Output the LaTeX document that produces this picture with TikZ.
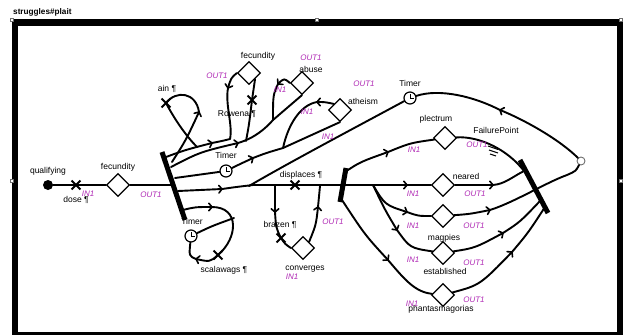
\documentclass[tikz,border=0pt]{standalone}
\usepackage{fontspec}
\setmainfont{Liberation Sans}
\usetikzlibrary{shapes.geometric,shapes.misc,arrows.meta}
\definecolor{portlbl}{RGB}{175,40,180}
\definecolor{handlegray}{RGB}{110,110,110}
\tikzset{
  flow/.style={line width=1.9pt, line cap=round, line join=round},
  chev/.pic={\draw[line width=1.6pt, line cap=round, line join=round] (-3.2pt,3.8pt) -- (0pt,0pt) -- (-3.2pt,-3.8pt);},
  ar/.style={pos=1, sloped, allow upside down},
  act/.style={diamond, draw, fill=white, line width=1.2pt, minimum size=23pt, inner sep=0pt},
  xmark/.style={cross out, draw, line width=1.8pt, minimum size=7pt, inner sep=0pt},
  syncbar/.style={line width=5pt},
  clock/.style={circle, draw, fill=white, line width=1.2pt, minimum size=12pt, inner sep=0pt},
  lbl/.style={font=\fontsize{8.5}{10}\selectfont, inner sep=0pt},
  port/.style={font=\fontsize{8}{10}\selectfont\itshape, text=portlbl, inner sep=0pt},
  handle/.style={rectangle, draw=handlegray, fill=white, line width=0.5pt, minimum size=3pt, inner sep=0pt},
}
\newcommand{\clockhands}[1]{\draw[line width=0.9pt] ([yshift=4pt]#1.center) -- (#1.center) -- ([xshift=4pt]#1.center);}
\begin{document}
\begin{tikzpicture}[x=1pt,y=-1pt]
\useasboundingbox (0,0) rectangle (623,335);

% window frame and title
\fill (12,19) rectangle (623,26);
\fill (12,19) rectangle (18,335);
\fill (617,19) rectangle (623,335);
\fill (12,332) rectangle (623,334.5);
\node[lbl, font=\fontsize{8.2}{10}\selectfont\bfseries, anchor=west] (title) at (13,12) {struggles\#plait};
\node[handle] (h1) at (12,20) {};
\node[handle] (h2) at (317,20) {};
\node[handle] (h3) at (621,20) {};
\node[handle] (h4) at (12,181) {};
\node[handle] (h5) at (621,181) {};

% places, transitions, timers
\node[circle, fill=black, minimum size=10pt, inner sep=0pt] (qual) at (48,185) {};
\node[xmark] (dose) at (76,185) {};
\node[act] (fecA) at (118,185) {};
\node[act] (fecB) at (249,73) {};
\node[act] (abuse) at (302,83) {};
\node[act] (athe) at (340,110) {};
\node[act] (conv) at (303,248) {};
\node[act] (plect) at (445,138) {};
\node[act] (neared) at (443,185) {};
\node[act] (magp) at (443,216) {};
\node[act] (estab) at (443,253) {};
\node[act] (phant) at (443,295) {};
\node[xmark] (ainx) at (166,103) {};
\node[xmark] (rowena) at (252,100) {};
\node[xmark] (displ) at (295,185) {};
\node[xmark] (brazen) at (281,238) {};
\node[xmark] (scal) at (218,255) {};
\node[clock] (timerA) at (226,171) {};
\node[clock] (timerB) at (410,98) {};
\node[clock] (timerC) at (191,236) {};
\node[circle, draw=handlegray, fill=white, line width=0.9pt, minimum size=8pt, inner sep=0pt] (circ) at (581,161) {};

% synchronisation bars
\coordinate (b1top) at (162,152);
\coordinate (b1bot) at (185,220);
\coordinate (b2top) at (346,168);
\coordinate (b2bot) at (340,202);
\coordinate (b3top) at (520,160);
\coordinate (b3bot) at (548,213);

% attachment and junction points
\coordinate (b1in) at (173,185);
\coordinate (b1a) at (166,157);
\coordinate (b1b) at (171,167);
\coordinate (b1c) at (175,178);
\coordinate (b1d) at (178,191);
\coordinate (b1e) at (183,210);
\coordinate (b1f) at (172,162);
\coordinate (j1) at (230,139);
\coordinate (j2) at (246,141);
\coordinate (j3) at (273,120);
\coordinate (j4) at (283,148);
\coordinate (j5) at (253,185);
\coordinate (j6) at (249,186);
\coordinate (j7) at (373,185);
\coordinate (j8) at (275,185);
\coordinate (j9) at (320,186);
\coordinate (j10) at (234,218);
\coordinate (j11) at (197,147);
\coordinate (b2a) at (345,172);
\coordinate (b2b) at (342,200);
\coordinate (b3a) at (524,171);
\coordinate (b3c) at (540,201);
\coordinate (b3d) at (545,207);

% left input
\draw[flow] (qual) -- (fecA);
\draw[flow] (fecA) -- (b1in);

% loops above the first bar
\draw[flow] (b1f) .. controls (186,140) .. (199,112) pic[ar]{chev}
  .. controls (196,92) and (176,90) .. (ainx.center) .. controls (176,122) and (188,138) .. (j11);
\draw[flow] (b1a) .. controls (185,150) .. (212,143) pic[ar]{chev} .. controls (222,141) .. (j1);
\draw[flow] (fecB.west) .. controls (231,78) .. (228,88) pic[ar]{chev}
  .. controls (225,105) and (233,125) .. (j1);
\draw[flow] (j2) .. controls (249,125) .. (rowena.center) .. controls (254,90) .. (fecB.south east);
\draw[flow] (b1b) .. controls (200,152) .. (238,143) pic[ar]{chev}
  .. controls (255,138) and (266,128) .. (j3) -- (abuse.south);
\draw[flow] (abuse.west) .. controls (284,78) .. (278,84) pic[ar]{chev} .. controls (273,95) .. (j3);
\draw[flow] (b1c) -- (timerA);
\draw[flow] (timerA) .. controls (238,165) .. (253,158) pic[ar]{chev}
  .. controls (266,153) .. (j4) -- (athe.south);
\draw[flow] (athe.north west) .. controls (325,102) .. (317,102) pic[ar]{chev}
  .. controls (300,105) and (288,125) .. (j4);

% main line through the middle
\draw[flow] (b1d) .. controls (200,190) .. (222,189) pic[ar]{chev} .. controls (236,187) .. (j5);
\draw[flow] (j5) -- (displ.center) -- (407,185) pic[ar]{chev} -- (neared);
\draw[flow] (timerB) .. controls (360,125) and (290,162) .. (j6);

% brazen / converges loop
\draw[flow] (j8) -- (275,212) pic[ar]{chev} .. controls (276,228) .. (brazen.center)
  .. controls (285,244) .. (conv.west);
\draw[flow] (conv.north east) .. controls (316,225) .. (318,207) pic[ar]{chev} -- (j9);

% scalawags loop with its timer
\draw[flow] (b1e) .. controls (195,207) .. (212,207) pic[ar]{chev}
  .. controls (240,207) and (238,238) .. (scal.center) .. controls (210,262) .. (196,259) pic[ar]{chev}
  .. controls (189,256) .. (timerC);
\draw[flow] (timerC) .. controls (212,226) .. (j10);

% fan out after the second bar
\draw[flow] (b2a) .. controls (360,162) .. (388,152) pic[ar]{chev} .. controls (410,143) .. (plect);
\draw[flow] (j7) .. controls (385,205) .. (407,212) pic[ar]{chev} .. controls (418,216) .. (magp);
\draw[flow] (j7) .. controls (385,210) .. (397,230) pic[ar]{chev} .. controls (410,248) .. (estab);
\draw[flow] (b2b) .. controls (365,235) .. (388,260) pic[ar]{chev}
  .. controls (405,280) and (415,292) .. (phant);

% merge into the third bar
\draw[flow] (plect) .. controls (480,136) and (508,150) .. (b3a);
\draw[flow] (neared) -- (493,185) pic[ar]{chev} .. controls (505,184) and (512,177) .. (b3a);
\draw[flow] (magp) .. controls (470,214) .. (490,210) pic[ar]{chev}
  .. controls (515,202) and (545,183) .. (567,175) .. controls (576,171) .. (circ);
\draw[flow] (estab) .. controls (475,248) .. (503,233) pic[ar]{chev} .. controls (520,222) .. (b3c);
\draw[flow] (phant) .. controls (480,285) .. (512,252) pic[ar]{chev} .. controls (528,233) .. (b3d);

% return arc through the upper timer
\draw[flow] (circ) .. controls (560,140) and (525,120) .. (500,110) pic[ar]{chev}
  .. controls (475,97) and (440,88) .. (timerB);

% failure marker
\draw[line width=1pt] (488,146) -- (498,149.5) (489,150) -- (498,153) (490,154) -- (496,156);

% bars on top
\draw[syncbar] (b1top) -- (b1bot);
\draw[syncbar] (b2top) -- (b2bot);
\draw[syncbar] (b3top) -- (b3bot);

\clockhands{timerA}
\clockhands{timerB}
\clockhands{timerC}

% labels
\node[lbl] (tq) at (48,171) {qualifying};
\node[lbl] (tdose) at (76,200) {dose ¶};
\node[port] (pdose) at (88,194) {IN1};
\node[lbl] (tfecA) at (118,167) {fecundity};
\node[port] (pfecA) at (151,195) {OUT1};
\node[lbl] (tain) at (167,89) {ain ¶};
\node[lbl] (tfecB) at (258,56) {fecundity};
\node[port] (pfecB) at (217,76) {OUT1};
\node[lbl] (trow) at (237,114) {Rowena ¶};
\node[port] (pab1) at (311,58) {OUT1};
\node[lbl] (tab) at (311,69) {abuse};
\node[port] (pab2) at (280,90) {IN1};
\node[port] (pab3) at (307,112) {IN1};
\node[port] (pat1) at (364,84) {OUT1};
\node[lbl] (tat) at (363,101) {atheism};
\node[port] (pat2) at (328,137) {IN1};
\node[lbl] (ttA) at (226,155) {Timer};
\node[lbl] (tdis) at (301,175) {displaces ¶};
\node[lbl] (ttC) at (192,221) {Timer};
\node[lbl] (tscal) at (224,270) {scalawags ¶};
\node[lbl] (tbraz) at (280,225) {brazen ¶};
\node[port] (pconv1) at (333,222) {OUT1};
\node[lbl] (tconv) at (305,269) {converges};
\node[port] (pconv2) at (292,277) {IN1};
\node[lbl] (ttB) at (410,83) {Timer};
\node[lbl] (tplec) at (436,119) {plectrum};
\node[lbl] (tfail) at (496,130) {FailurePoint};
\node[port] (pplec1) at (414,150) {IN1};
\node[port] (pplec2) at (477,145) {OUT1};
\node[lbl] (tnear) at (466,176) {neared};
\node[port] (pnear1) at (413,194) {IN1};
\node[port] (pnear2) at (475,194) {OUT1};
\node[port] (pmag1) at (413,226) {IN1};
\node[port] (pmag2) at (474,226) {OUT1};
\node[lbl] (tmag) at (444,238) {magpies};
\node[port] (pest1) at (413,260) {IN1};
\node[port] (pest2) at (474,263) {OUT1};
\node[lbl] (test) at (445,271) {established};
\node[port] (pph1) at (412,304) {IN1};
\node[port] (pph2) at (474,300) {OUT1};
\node[lbl] (tph) at (441,309) {phantasmagorias};
\end{tikzpicture}
\end{document}
